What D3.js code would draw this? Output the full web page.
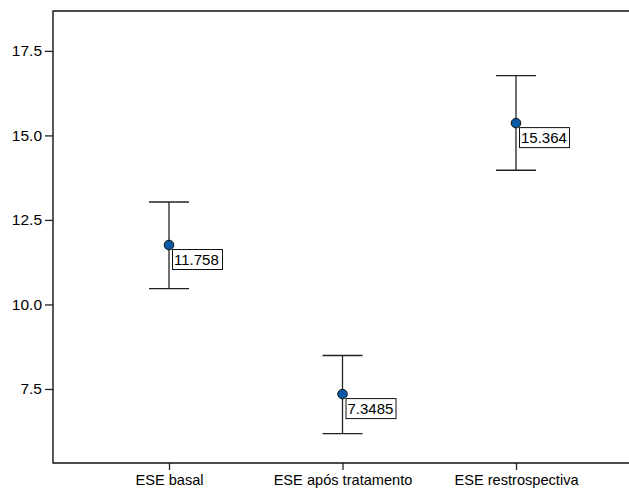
<!DOCTYPE html>
<html>
<head>
<meta charset="utf-8">
<script src="https://cdn.jsdelivr.net/npm/d3@7"></script>
<style>
  body { margin: 0; background: #fff; }
  text { font-family: "Liberation Sans", Arial, Helvetica, sans-serif; fill: #000; }
</style>
</head>
<body>
<div id="chart"></div>
<script>
// data
var categories = ["ESE basal", "ESE após tratamento", "ESE restrospectiva"];
var means = [11.758, 7.3485, 15.364];
var upper = [13.03, 8.49, 16.77];
var lower = [10.47, 6.18, 13.97];
var meanLabels = ["11.758", "7.3485", "15.364"];
var yTicks = [7.5, 10.0, 12.5, 15.0, 17.5];

var width = 629, height = 490;
var border = {top: 11, left: 53, bottom: 463, right: 640};

var svg = d3.select("#chart").append("svg")
   .attr("width", width).attr("height", height);

var xScale = d3.scalePoint().domain(categories).range([169, 516]);
var yScale = d3.scaleLinear().domain([5.31, 18.68]).range([border.bottom, border.top]);

// axes
var yAxis = d3.axisLeft(yScale).tickValues(yTicks).tickFormat(d3.format(".1f")).tickSize(8).tickPadding(3);
var xAxis = d3.axisBottom(xScale).tickSize(7).tickPadding(5);

var gy = svg.append("g").attr("transform", "translate(" + border.left + ",0)").call(yAxis);
var gx = svg.append("g").attr("transform", "translate(0," + border.bottom + ")").call(xAxis);
gy.select(".domain").remove();
gx.select(".domain").remove();
svg.selectAll(".tick line").attr("stroke", "#222").attr("stroke-width", 1.3);
svg.selectAll(".tick text").attr("fill", "#000");
gy.selectAll(".tick text").style("font-size", "15.5px");
gx.selectAll(".tick text").style("font-size", "14.6px");

// frame (left, top, bottom)
svg.append("path")
   .attr("d", "M" + border.right + "," + border.top + "H" + border.left + "V" + border.bottom + "H" + border.right)
   .attr("fill", "none").attr("stroke", "#111").attr("stroke-width", 1.4);

// error bars
var idx = d3.range(categories.length);
var capHalf = 20;
var bars = svg.append("g").attr("class", "error-bars");
bars.selectAll(".whisker").data(idx).enter().append("line")
   .attr("x1", function(i){ return xScale(categories[i]); })
   .attr("x2", function(i){ return xScale(categories[i]); })
   .attr("y1", function(i){ return yScale(upper[i]); })
   .attr("y2", function(i){ return yScale(lower[i]); })
   .attr("stroke", "#222").attr("stroke-width", 1.3);
bars.selectAll(".capTop").data(idx).enter().append("line")
   .attr("x1", function(i){ return xScale(categories[i]) - capHalf; })
   .attr("x2", function(i){ return xScale(categories[i]) + capHalf; })
   .attr("y1", function(i){ return yScale(upper[i]); })
   .attr("y2", function(i){ return yScale(upper[i]); })
   .attr("stroke", "#222").attr("stroke-width", 1.3);
bars.selectAll(".capBot").data(idx).enter().append("line")
   .attr("x1", function(i){ return xScale(categories[i]) - capHalf; })
   .attr("x2", function(i){ return xScale(categories[i]) + capHalf; })
   .attr("y1", function(i){ return yScale(lower[i]); })
   .attr("y2", function(i){ return yScale(lower[i]); })
   .attr("stroke", "#222").attr("stroke-width", 1.3);

// mean points
svg.selectAll(".point").data(idx).enter().append("circle")
   .attr("cx", function(i){ return xScale(categories[i]); })
   .attr("cy", function(i){ return yScale(means[i]); })
   .attr("r", 4.8)
   .attr("fill", "#0b5aa6").attr("stroke", "#111").attr("stroke-width", 1);

// value labels
var labels = svg.selectAll(".label").data(idx).enter().append("g")
   .attr("transform", function(i){
      return "translate(" + (xScale(categories[i]) + 3.5) + "," + (yScale(means[i]) + 4.5) + ")";
   });
labels.append("rect").attr("width", 50).attr("height", 20)
   .attr("fill", "#fff").attr("stroke", "#111").attr("stroke-width", 1);
labels.append("text").attr("x", 1.5).attr("y", 15.5)
   .style("font-size", "15px")
   .text(function(i){ return meanLabels[i]; });
</script>
</body>
</html>
